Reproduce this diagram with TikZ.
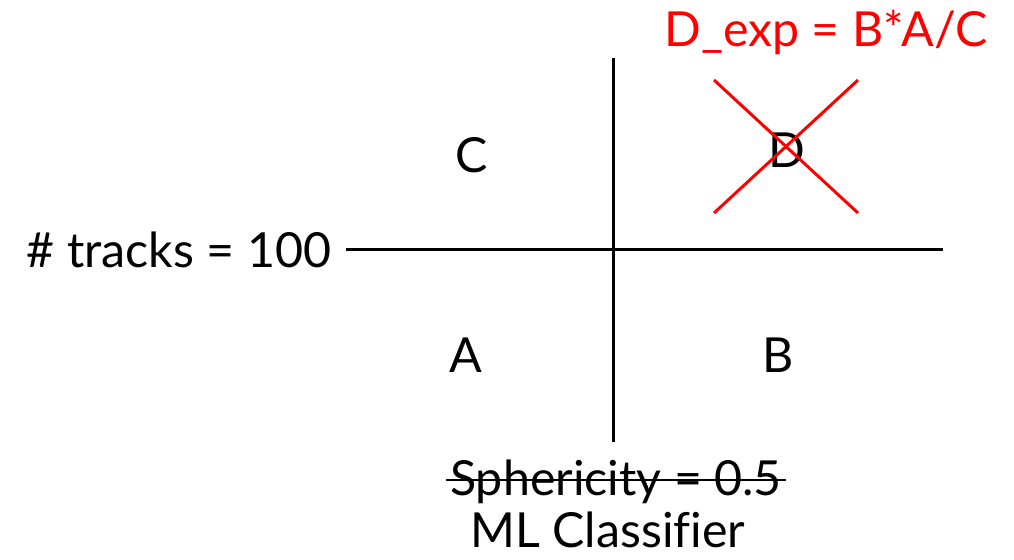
\documentclass[tikz,border=0pt]{standalone}
\usepackage{fontspec}
\setmainfont[Ligatures=NoCommon]{Lato}
\usetikzlibrary{positioning}

\begin{document}
\begin{tikzpicture}[
  x=0.02cm, y=-0.02cm,
  axis/.style={line width=1.7pt, black},
  cross/.style={line width=1.7pt, red},
  label/.style={font=\fontsize{27.5}{32}\selectfont, inner sep=0pt, anchor=base},
  formula/.style={label, text=red},
]
  \useasboundingbox (0,0) rectangle (1014,559);

  % axes
  \coordinate (top) at (613,58);
  \coordinate (bottom) at (613,442);
  \coordinate (left) at (346,249);
  \coordinate (right) at (943,249);
  \draw[axis] (top) -- (bottom);
  \draw[axis] (left) -- (right);

  % regions
  \node[label] (regC) at (472,172) {C};
  \node[label] (regD) at (787,167) {D};
  \node[label] (regA) at (466,372) {A};
  \node[label] (regB) at (778,372) {B};

  % cut labels
  \node[label] (tracks) at (179,267) {\# tracks = 100};
  \node[label] (spher) at (616,495) {Sphericity = 0.5};
  \node[label] (ml) at (608,547) {ML Classifier};
  \draw[line width=1.1pt] ([xshift=-2pt,yshift=8.5pt]spher.base west) -- ([xshift=2pt,yshift=8.5pt]spher.base east);

  % estimate for D
  \node[formula] (dexp) at (826,46) {D\_exp = B*A/C};
  \coordinate (xa) at (714,80);
  \coordinate (xb) at (858,213);
  \coordinate (xc) at (858,80);
  \coordinate (xd) at (714,213);
  \draw[cross] (xa) -- (xb);
  \draw[cross] (xc) -- (xd);
\end{tikzpicture}
\end{document}
